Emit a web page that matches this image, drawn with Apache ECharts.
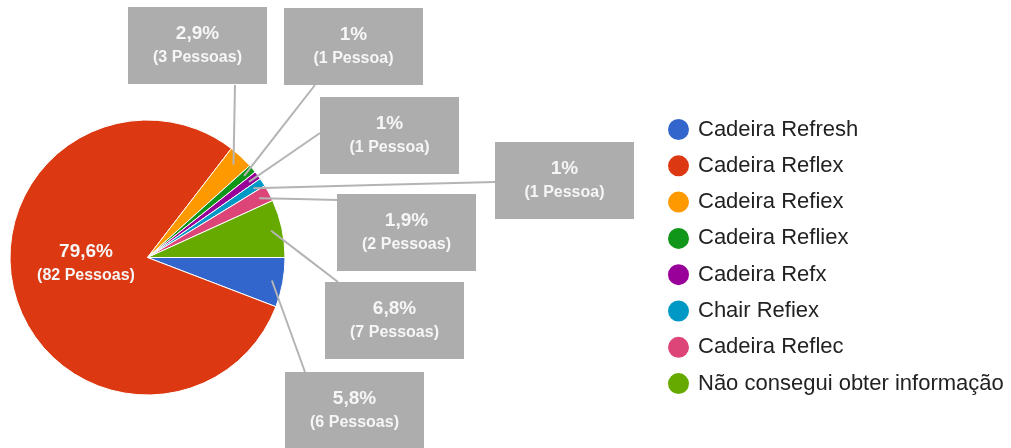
<!DOCTYPE html>
<html>
<head>
<meta charset="utf-8">
<script src="https://cdn.jsdelivr.net/npm/echarts@6/dist/echarts.min.js"></script>
<style>
  html, body { margin: 0; padding: 0; background: #ffffff; }
  #chart { width: 1011px; height: 448px; }
</style>
</head>
<body>
<div id="chart"></div>
<script>
// Survey answers: which chair model respondents have
const categories = [
  'Cadeira Refresh',
  'Cadeira Reflex',
  'Cadeira Refiex',
  'Cadeira Refliex',
  'Cadeira Refx',
  'Chair Refiex',
  'Cadeira Reflec',
  'Não consegui obter informação'
];
const people = [6, 82, 3, 1, 1, 1, 2, 7];
const colors = ['#3366cc', '#dc3912', '#ff9900', '#109618', '#990099', '#0099c6', '#dd4477', '#66aa00'];

// Callout layout: top-left corner of each grey box and the point where its leader meets it
const calloutBoxes = [[285, 372], null, [128, 7], [284, 8], [320, 97], [495, 142], [337, 194], [325, 282]];
const leaderEnds   = [[305, 372], null, [235, 85], [315, 85], [320, 133], [495, 182], [337, 200], [338, 282]];
const insideLabelAt = [86, 264];

const PIE_CENTER = [147.5, 257.5];
const PIE_RADIUS = 137.5;
const BOX_W = 139, BOX_H = 77;
const LEADER_DEPTH = 0.92; // leaders start just inside the slice rim
const FONT = 'Liberation Sans, Arial, sans-serif';

const fmtPercent = p => String(p).replace('.', ',') + '%';
const fmtPeople = n => '(' + n + (n === 1 ? ' Pessoa)' : ' Pessoas)');

// Coloured slices
const sliceData = categories.map((name, i) => ({
  name: name, value: people[i], itemStyle: { color: colors[i] }
}));

// Same slices, invisible, drawn on top so the callout leaders cross over the wedges
const calloutData = categories.map((name, i) => {
  const item = { name: name, value: people[i] };
  if (!calloutBoxes[i]) {
    item.label = { backgroundColor: 'transparent', padding: 0 };
    item.labelLine = { show: false };
  }
  return item;
});

const common = {
  type: 'pie',
  center: PIE_CENTER,
  radius: PIE_RADIUS,
  startAngle: 0,
  clockwise: true,
  percentPrecision: 1,
  avoidLabelOverlap: false,
  emphasis: { disabled: true },
  silent: true
};

const chart = echarts.init(document.getElementById('chart'), null, { renderer: 'canvas' });

chart.setOption({
  animation: false,
  backgroundColor: '#ffffff',
  legend: {
    orient: 'vertical',
    left: 661,
    top: 112,
    icon: 'circle',
    itemWidth: 23,
    itemHeight: 23,
    itemGap: 11.3,
    selectedMode: false,
    data: categories,
    textStyle: {
      fontFamily: FONT,
      fontSize: 22,
      color: '#222222',
      padding: [0, 0, 0, 3]
    }
  },
  series: [
    Object.assign({}, common, {
      name: 'fatias',
      z: 2,
      data: sliceData,
      itemStyle: { borderColor: '#ffffff', borderWidth: 1 },
      label: { show: false },
      labelLine: { show: false }
    }),
    Object.assign({}, common, {
      name: 'rotulos',
      z: 3,
      data: calloutData,
      itemStyle: { color: 'rgba(0,0,0,0)', borderWidth: 0 },
      label: {
        show: true,
        position: 'outside',
        width: BOX_W,
        padding: [14.5, 0, 14.5, 0],
        backgroundColor: '#adadad',
        align: 'center',
        opacity: 1,
        formatter: p => '{a|' + fmtPercent(p.percent) + '}\n{b|' + fmtPeople(p.value) + '}',
        rich: {
          a: { fontFamily: FONT, fontSize: 19, fontWeight: 'bold', color: '#f6f6f6', lineHeight: 24, align: 'center' },
          b: { fontFamily: FONT, fontSize: 16, fontWeight: 'bold', color: '#f6f6f6', lineHeight: 24, align: 'center' }
        }
      },
      labelLine: {
        show: true,
        lineStyle: { color: '#b4b4b4', width: 2, opacity: 1 }
      },
      labelLayout: function (params) {
        const i = params.dataIndex;
        const box = calloutBoxes[i];
        if (!box) {
          return { x: insideLabelAt[0], y: insideLabelAt[1], align: 'center', verticalAlign: 'middle' };
        }
        const cx = PIE_CENTER[0], cy = PIE_CENTER[1];
        let rim;
        if (params.labelLinePoints && params.labelLinePoints[0]) {
          rim = params.labelLinePoints[0];
        } else {
          rim = [params.rect.x + params.rect.width / 2, params.rect.y + params.rect.height / 2];
        }
        // direction of the slice's mid angle, then step in to a fixed depth
        const dx = rim[0] - cx, dy = rim[1] - cy;
        const len = Math.sqrt(dx * dx + dy * dy) || 1;
        const start = [cx + dx / len * PIE_RADIUS * LEADER_DEPTH, cy + dy / len * PIE_RADIUS * LEADER_DEPTH];
        const end = leaderEnds[i];
        const mid = [(start[0] + end[0]) / 2, (start[1] + end[1]) / 2];
        return {
          x: box[0] + BOX_W / 2,
          y: box[1] + BOX_H / 2,
          align: 'center',
          verticalAlign: 'middle',
          labelLinePoints: [start, mid, end]
        };
      }
    })
  ]
});
</script>
</body>
</html>
